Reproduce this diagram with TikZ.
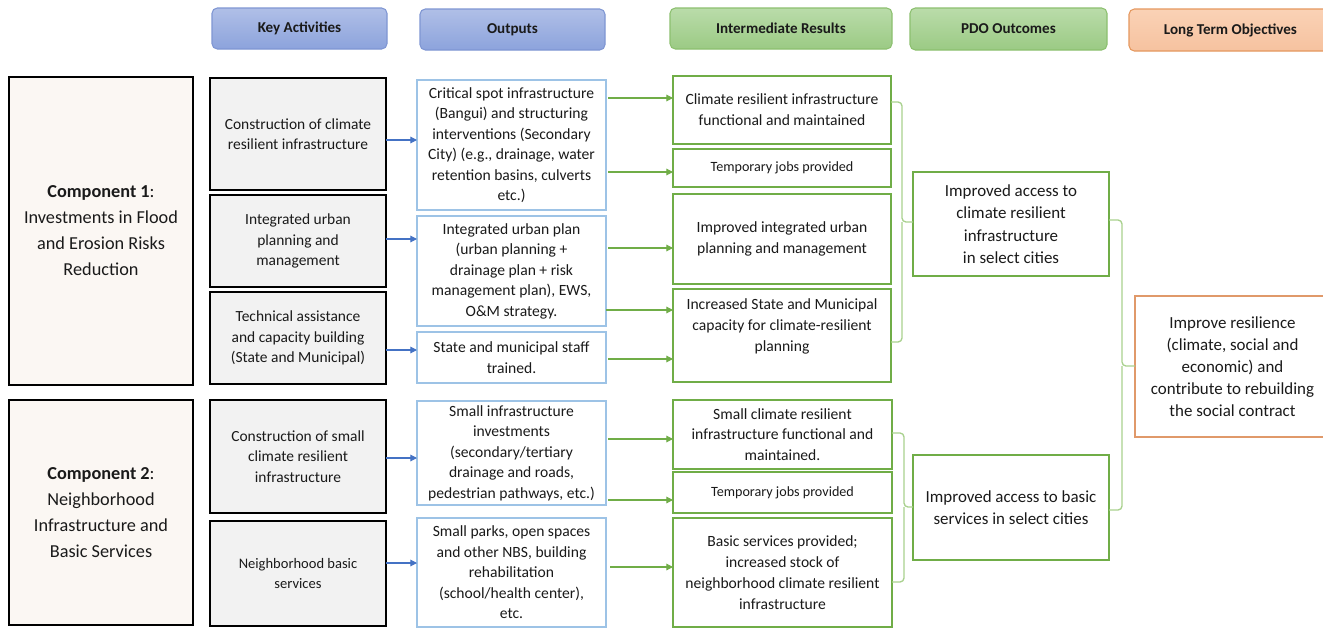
\documentclass[tikz,border=0pt]{standalone}
\usepackage{fontspec}
\setmainfont{Carlito}
\usetikzlibrary{arrows.meta,calc}
\definecolor{cream}{HTML}{FBF7F3}
\definecolor{kagray}{HTML}{F2F2F2}
\definecolor{outblue}{HTML}{9DC3E6}
\definecolor{irgreen}{HTML}{70AD47}
\definecolor{brgreen}{HTML}{A9D18E}
\definecolor{arblue}{HTML}{4472C4}
\definecolor{ltoor}{HTML}{E0996A}
\definecolor{hbtop}{HTML}{B0BFE7}
\definecolor{hbbot}{HTML}{8CA3DC}
\definecolor{hbdraw}{HTML}{7F96D3}
\definecolor{hgtop}{HTML}{BADCAA}
\definecolor{hgbot}{HTML}{9BCA84}
\definecolor{hgdraw}{HTML}{8CC06F}
\definecolor{hotop}{HTML}{FAD2B6}
\definecolor{hobot}{HTML}{F6C29F}
\definecolor{hodraw}{HTML}{E5985F}
\definecolor{txt}{HTML}{1A1A1A}
\newcommand\mybox[7]{%
  \pgfmathsetlengthmacro\bxw{(#5-#3)*0.75pt}%
  \pgfmathsetlengthmacro\bxh{(#6-#4)*0.75pt}%
  \node[#2, minimum width=\bxw, minimum height=\bxh] (#1) at ({(#3+#5)/2},{(#4+#6)/2}) {#7};}
\begin{document}
\begin{tikzpicture}[x=0.75pt,y=-0.75pt,
  every node/.style={inner sep=0pt, outer sep=0pt, align=center, text=txt},
  hdrblue/.style={draw=hbdraw, line width=0.8pt, rounded corners=4pt, top color=hbtop, bottom color=hbbot, font={\fontsize{11.3pt}{13pt}\selectfont\bfseries}},
  hdrgreen/.style={draw=hgdraw, line width=0.8pt, rounded corners=4pt, top color=hgtop, bottom color=hgbot, font={\fontsize{11.3pt}{13pt}\selectfont\bfseries}},
  hdrorange/.style={draw=hodraw, line width=0.8pt, rounded corners=4pt, top color=hotop, bottom color=hobot, font={\fontsize{11.3pt}{13pt}\selectfont\bfseries}},
  comp/.style={draw=black, line width=1.4pt, fill=cream, font={\fontsize{13.7pt}{19.5pt}\selectfont}},
  ka/.style={draw=black, line width=1.4pt, fill=kagray, font={\fontsize{11.6pt}{15.3pt}\selectfont}},
  kasmall/.style={ka, font={\fontsize{10.9pt}{15.6pt}\selectfont}},
  outb/.style={draw=outblue, line width=1pt, fill=white, font={\fontsize{11.7pt}{15.4pt}\selectfont}},
  irb/.style={draw=irgreen, line width=0.9pt, fill=white, font={\fontsize{11.7pt}{15.6pt}\selectfont}},
  irsmall/.style={irb, font={\fontsize{10.6pt}{12pt}\selectfont}},
  pdob/.style={draw=irgreen, line width=0.9pt, fill=white, font={\fontsize{12.7pt}{16.9pt}\selectfont}},
  ltob/.style={draw=ltoor, line width=0.9pt, fill=white, font={\fontsize{12.7pt}{16.6pt}\selectfont}},
  barrow/.style={draw=arblue, line width=0.8pt, -{Triangle[length=5pt,width=5pt]}},
  garrow/.style={draw=irgreen, line width=0.8pt, -{Triangle[length=5pt,width=5pt]}},
  brace/.style={draw=brgreen, line width=1pt, rounded corners=3pt}
]
\useasboundingbox (0,0) rectangle (1323,628);
\fill[white] (0,0) rectangle (1323,628);

% headers
\mybox{hka}{hdrblue}{212}{8}{387}{49}{Key Activities}
\mybox{hout}{hdrblue}{420}{9}{605}{50}{Outputs}
\mybox{hir}{hdrgreen}{670}{8}{892}{49}{Intermediate Results}
\mybox{hpdo}{hdrgreen}{910}{8}{1107}{50}{PDO Outcomes}
\mybox{hlto}{hdrorange}{1129}{9}{1332}{51}{Long Term Objectives}

% components
\mybox{c1}{comp}{9}{77}{193}{385}{\textbf{Component 1}:\\Investments in Flood\\and Erosion Risks\\Reduction}
\mybox{c2}{comp}{9}{400}{193}{625}{\textbf{Component 2}:\\Neighborhood\\Infrastructure and\\Basic Services}

% key activities
\mybox{ka1}{ka}{210}{78}{386}{190}{Construction of climate\\resilient infrastructure}
\mybox{ka2}{ka}{210}{195}{386}{287}{Integrated urban\\planning and\\management}
\mybox{ka3}{ka}{210}{292}{386}{384}{Technical assistance\\and capacity building\\(State and Municipal)}
\mybox{ka4}{ka}{210}{400}{386}{513}{Construction of small\\climate resilient\\infrastructure}
\mybox{ka5}{kasmall}{210}{521}{386}{626}{Neighborhood basic\\services}

% outputs
\mybox{o1}{outb}{417}{80}{606}{210}{Critical spot infrastructure\\(Bangui) and structuring\\interventions (Secondary\\City) (e.g., drainage, water\\retention basins, culverts\\etc.)}
\mybox{o2}{outb}{417}{216}{606}{326}{Integrated urban plan\\(urban planning +\\drainage plan + risk\\management plan), EWS,\\O\&M strategy.}
\mybox{o3}{outb}{417}{332}{606}{383}{State and municipal staff\\trained.}
\mybox{o4}{outb}{417}{401}{606}{505}{Small infrastructure\\investments\\(secondary/tertiary\\drainage and roads,\\pedestrian pathways, etc.)}
\mybox{o5}{outb}{417}{518}{606}{627}{Small parks, open spaces\\and other NBS, building\\rehabilitation\\(school/health center),\\etc.}

% intermediate results
\mybox{ir1}{irb}{673}{76}{891}{144}{Climate resilient infrastructure\\functional and maintained}
\mybox{ir2}{irsmall}{673}{149}{891}{187}{Temporary jobs provided}
\mybox{ir3}{irb}{673}{194}{891}{284}{Improved integrated urban\\planning and management}
\mybox{ir4}{irb}{673}{289}{891}{382}{Increased State and Municipal\\capacity for climate-resilient\\planning\\~}
\mybox{ir5}{irb}{673}{400}{892}{469}{Small climate resilient\\infrastructure functional and\\maintained.}
\mybox{ir6}{irsmall}{673}{472}{892}{513}{Temporary jobs provided}
\mybox{ir7}{irb}{673}{518}{892}{627}{Basic services provided;\\increased stock of\\neighborhood climate resilient\\infrastructure}

% PDO outcomes
\mybox{pdo1}{pdob}{913}{172}{1109}{276}{Improved access to\\climate resilient\\infrastructure\\in select cities}
\mybox{pdo2}{pdob}{913}{455}{1109}{560}{Improved access to basic\\services in select cities}

% long term
\mybox{lto}{ltob}{1135}{296}{1330}{437}{Improve resilience\\(climate, social and\\economic) and\\contribute to rebuilding\\the social contract}

% blue arrows
\draw[barrow] (ka1.east |- 0,140) -- (o1.west |- 0,140);
\draw[barrow] (ka2.east |- 0,239) -- (o2.west |- 0,239);
\draw[barrow] (ka3.east |- 0,350) -- (o3.west |- 0,350);
\draw[barrow] (ka4.east |- 0,458) -- (o4.west |- 0,458);
\draw[barrow] (ka5.east |- 0,563) -- (o5.west |- 0,563);

% green arrows
\draw[garrow] ($(o1.east |- 0,98)+(2,0)$) -- (ir1.west |- 0,98);
\draw[garrow] ($(o1.east |- 0,172)+(2,0)$) -- (ir2.west |- 0,172);
\draw[garrow] ($(o2.east |- 0,248)+(2,0)$) -- (ir3.west |- 0,248);
\draw[garrow] (o2.east |- 0,310) -- (ir4.west |- 0,310);
\draw[garrow] ($(o3.east |- 0,359)+(2,0)$) -- (ir4.west |- 0,359);
\draw[garrow] ($(o4.east |- 0,439)+(2,0)$) -- (ir5.west |- 0,439);
\draw[garrow] ($(o4.east |- 0,500)+(2,0)$) -- (ir6.west |- 0,500);
\draw[garrow] ($(o5.east |- 0,567)+(4,0)$) -- (ir7.west |- 0,567);

% brackets
\coordinate (b1m) at (902,222);
\draw[brace] (ir1.east |- 0,102) -| (b1m) -- (pdo1.west |- b1m);
\draw[brace] (ir4.east |- 0,342) -| (b1m);
\coordinate (b2m) at (904,507);
\draw[brace] (ir5.east |- 0,433) -| (b2m) -- (pdo2.west |- b2m);
\draw[brace] (ir7.east |- 0,582) -| (b2m);
\coordinate (b3m) at (1122,366);
\draw[brace] (pdo1.east |- 0,220) -| (b3m) -- (lto.west |- b3m);
\draw[brace] (pdo2.east |- 0,510) -| (b3m);
\end{tikzpicture}
\end{document}
